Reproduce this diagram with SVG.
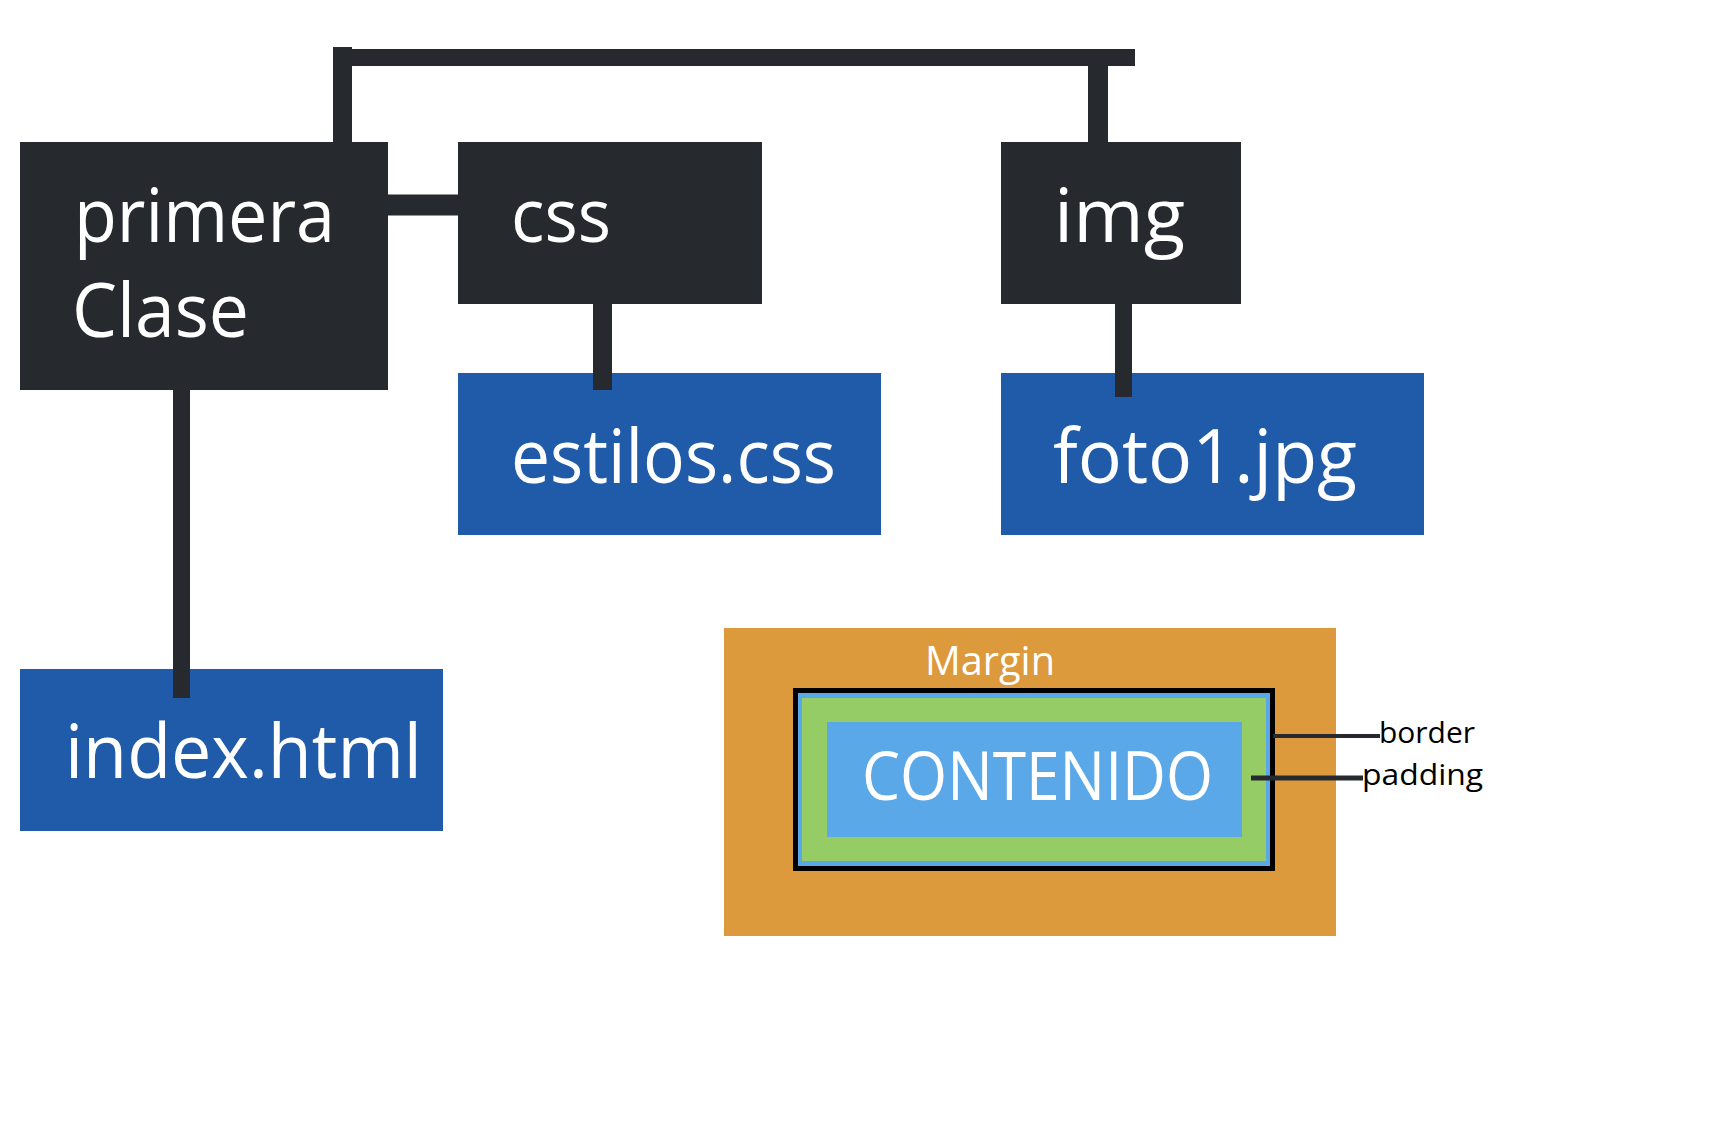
<svg xmlns="http://www.w3.org/2000/svg" width="1734" height="1124" viewBox="0 0 1734 1124">
<style>
.dark{fill:#26292e}
.blue{fill:#1f5ba8}
.lbl{font-family:"Open Sans","Noto Sans",sans-serif;fill:#ffffff;font-size:75px}
.conn{stroke:#26292e;fill:none;stroke-linecap:butt}
.small{font-family:"Open Sans","Noto Sans",sans-serif;fill:#000000;font-size:30px}
</style>
<rect width="1734" height="1124" fill="#ffffff"/>
<g id="primeraClase">
<rect class="dark" x="20" y="142" width="368" height="248"/>
<text class="lbl" x="74" y="242" textLength="261" lengthAdjust="spacingAndGlyphs">primera</text>
<text class="lbl" x="72" y="337" textLength="177" lengthAdjust="spacingAndGlyphs">Clase</text>
</g>
<g id="css">
<rect class="dark" x="458" y="142" width="304" height="162"/>
<text class="lbl" x="511" y="242" textLength="100" lengthAdjust="spacingAndGlyphs">css</text>
</g>
<g id="img">
<rect class="dark" x="1001" y="142" width="240" height="162"/>
<text class="lbl" x="1054" y="242" textLength="131" lengthAdjust="spacingAndGlyphs">img</text>
</g>
<g id="estilos">
<rect class="blue" x="458" y="373" width="423" height="162"/>
<text class="lbl" x="511" y="483" textLength="325" lengthAdjust="spacingAndGlyphs">estilos.css</text>
</g>
<g id="foto">
<rect class="blue" x="1001" y="373" width="423" height="162"/>
<text class="lbl" x="1053" y="483" textLength="304" lengthAdjust="spacingAndGlyphs">foto1.jpg</text>
</g>
<g id="index">
<rect class="blue" x="20" y="669" width="423" height="162"/>
<text class="lbl" x="65" y="778" textLength="357" lengthAdjust="spacingAndGlyphs">index.html</text>
</g>
<g id="boxModel">
<rect x="724" y="628" width="612" height="308" fill="#dc9a3c"/>
<text x="925" y="675" font-family="Open Sans, Noto Sans, sans-serif" font-size="41" fill="#ffffff" textLength="130" lengthAdjust="spacingAndGlyphs">Margin</text>
<rect x="793" y="688" width="482" height="183" fill="#000000"/>
<rect x="798" y="693" width="472" height="173" fill="#5aa8e8"/>
<rect x="802" y="698" width="464" height="163" fill="#95cc66"/>
<rect x="827" y="722" width="415" height="115" fill="#5aa8e8"/>
<text x="862" y="800" font-family="Open Sans, Noto Sans, sans-serif" font-size="68" fill="#ffffff" textLength="351" lengthAdjust="spacingAndGlyphs">CONTENIDO</text>
<text class="small" x="1379" y="743" textLength="96" lengthAdjust="spacingAndGlyphs">border</text>
<text class="small" x="1362" y="785" textLength="121" lengthAdjust="spacingAndGlyphs">padding</text>
</g>
<g id="connectors">
<path class="conn" stroke-width="19" d="M342.5,142 V47"/>
<path class="conn" stroke-width="17" d="M333,57.5 H1135"/>
<path class="conn" stroke-width="20" d="M1098,57 V142"/>
<path class="conn" stroke-width="21" d="M388,205 H458"/>
<path class="conn" stroke-width="19" d="M602.5,304 V390"/>
<path class="conn" stroke-width="17" d="M1123.5,304 V397"/>
<path class="conn" stroke-width="17" d="M181.5,390 V698"/>
<path class="conn" stroke-width="4" d="M1273,736 H1380"/>
<path class="conn" stroke-width="5" d="M1251,778 H1363"/>
</g>
</svg>
